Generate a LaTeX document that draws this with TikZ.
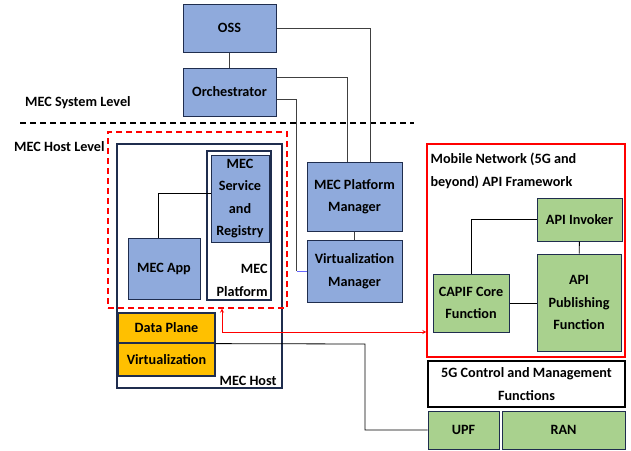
\documentclass[tikz,border=0pt]{standalone}
\usepackage{fontspec}
\setmainfont{Carlito}
\usetikzlibrary{calc}

\definecolor{mecblue}{HTML}{8FAADC}
\definecolor{mecgreen}{HTML}{A9D18E}
\definecolor{mecorange}{HTML}{FFC000}
\definecolor{navy}{HTML}{1F2D4E}

\begin{document}
\begin{tikzpicture}[x=1pt, y=-1pt,
	every node/.style={font=\fontsize{14.2}{22.5}\selectfont\bfseries, align=center, inner sep=1pt},
	bluebox/.style={rectangle, draw=navy, fill=mecblue, line width=1pt},
	greenbox/.style={rectangle, draw=navy, fill=mecgreen, line width=1pt},
	orangebox/.style={rectangle, draw=navy, fill=mecorange, line width=1.2pt},
	hostbox/.style={rectangle, draw=navy, fill=white, line width=1.5pt},
	link/.style={draw=black!75, line width=0.8pt},
	]
	\useasboundingbox (0,0) rectangle (631,450);

	% system level
	\node[bluebox, minimum width=93pt, minimum height=48pt] (oss) at (229.5,28) {OSS};
	\node[bluebox, minimum width=93pt, minimum height=48pt] (orch) at (229.5,92) {Orchestrator};
	\node[bluebox, minimum width=95pt, minimum height=69pt] (mpm) at (354.5,196.5) {MEC Platform\\Manager};
	\node[bluebox, minimum width=95pt, minimum height=62pt] (vim) at (354.5,271) {Virtualization\\Manager};

	\node[anchor=west] (syslevel) at (24,103) {MEC System Level};
	\node[anchor=west] (hostlevel) at (13,147) {MEC Host Level};
	\coordinate (sepl) at (20,123);
	\coordinate (sepr) at (414,123);
	\draw[dashed, line width=1.3pt, dash pattern=on 6pt off 4pt] (sepl) -- (sepr);

	% MEC host
	\node[hostbox, minimum width=165pt, minimum height=244pt] (mechost) at (199.5,266) {};
	\node[anchor=south east] (hostlabel) at ([xshift=-5pt, yshift=2pt]mechost.south east) {MEC Host};
	\node[hostbox, minimum width=64pt, minimum height=149pt] (mecplat) at (239,225.5) {};
	\node[bluebox, minimum width=58pt, minimum height=87pt] (msr) at (240,198.5) {MEC\\Service\\and\\Registry};
	\node[anchor=south east, align=right] (platlabel) at ([xshift=-3pt, yshift=3pt]mecplat.south east) {MEC\\Platform};
	\node[bluebox, minimum width=72pt, minimum height=61pt] (mecapp) at (164,268.5) {MEC App};
	\node[orangebox, minimum width=97pt, minimum height=30pt] (dataplane) at (166.5,328) {Data Plane};
	\node[orangebox, minimum width=97pt, minimum height=33pt] (virt) at (166.5,359.5) {Virtualization};
	\node[rectangle, draw=red, dashed, line width=1.2pt, dash pattern=on 6pt off 4pt,
		minimum width=179pt, minimum height=176pt] (redbox) at (197.5,220) {};

	% mobile network side
	\node[rectangle, draw=red, line width=1.2pt, minimum width=198pt, minimum height=213pt] (mnbox) at (526,250.5) {};
	\node[anchor=north west, align=left, font=\fontsize{14.2}{23.5}\selectfont\bfseries] (mnlabel) at ([xshift=3pt, yshift=-8pt]mnbox.north west) {Mobile Network (5G and\\beyond) API Framework};
	\node[greenbox, minimum width=85pt, minimum height=43pt] (apiinv) at (579.5,219.5) {API Invoker};
	\node[greenbox, minimum width=84pt, minimum height=97pt] (apipub) at (579,302.5) {API\\Publishing\\Function};
	\node[greenbox, minimum width=76pt, minimum height=58pt] (capif) at (471,303) {CAPIF Core\\Function};
	\node[rectangle, draw=black, line width=1.2pt, minimum width=197pt, minimum height=46pt] (ctrl) at (526.5,384) {5G Control and Management\\Functions};
	\node[greenbox, minimum width=71pt, minimum height=38pt] (upf) at (463.5,430) {UPF};
	\node[greenbox, minimum width=123pt, minimum height=38pt] (ran) at (563.5,430) {RAN};

	% connectors
	\draw[link] (oss) -- (orch);
	\draw[link] (oss.east) -| ([xshift=15.5pt]mpm.north);
	\draw[link] ([yshift=15pt]orch.east) -| ([xshift=-7.5pt]mpm.north);
	\draw[link] ([yshift=-7pt]orch.east) -| ([xshift=-10pt]vim.west);
	\draw[draw=blue!60, line width=0.8pt] ([xshift=-10pt]vim.west) -- (vim.west);
	\draw[link] (mpm) -- (vim);
	\draw[link, black] ([xshift=-6pt]mecapp.north) |- ([yshift=5.5pt]msr.west);
	\draw[red, line width=0.8pt, <->, >=stealth] ([xshift=24.5pt]redbox.south) |- ([yshift=-81.5pt]mnbox.west);
	\coordinate (bend) at (365,344);
	\draw[link, black] (dataplane.south east) -- (bend) |- (upf.west);
	\draw[link, black] (capif.north) |- (apiinv.west);
	\draw[link, black] (apiinv) -- (apipub);
	\draw[link, black] (capif.east) -- (capif.east -| apipub.west);

\end{tikzpicture}
\end{document}
